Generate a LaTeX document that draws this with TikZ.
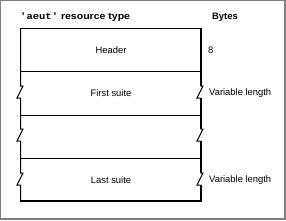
\documentclass[tikz,border=0pt]{standalone}
\usepackage{fontspec}
\setmainfont{Liberation Sans}
\newfontfamily\monob{Liberation Mono}
\begin{document}
\begin{tikzpicture}[x=1pt,y=-1pt,
  lbl/.style={inner sep=0pt,font=\fontsize{9.4}{11}\selectfont},
  hdr/.style={inner sep=0pt,font=\fontsize{9.4}{11}\selectfont\bfseries},
  frm/.style={draw={rgb,255:red,128;green,128;blue,128}},
  thin/.style={line width=1pt},
  thick/.style={line width=2pt}]
\useasboundingbox (0,0) rectangle (286,220);
\fill[white] (0,0) rectangle (286,220);
% outer frame
\draw[frm,line width=1pt] (285,0.5) -- (0.5,0.5) -- (0.5,219);
\draw[frm,line width=2pt] (285,0) -- (285,219) -- (0,219);
% title texts
\node[hdr,anchor=west] (title) at (20,17.5) {\scalebox{1.12}[1]{{\monob 'aeut'} resource type}};
\node[hdr,anchor=west] (bytes) at (212,17.5) {Bytes};
% coordinates
\coordinate (tl) at (20.5,28.5);
\coordinate (tr) at (200.5,28.5);
% horizontal lines
\draw[thin] (20,28.5) -- (201.5,28.5);
\draw[thin] (20.5,71.5) -- (200.5,71.5);
\draw[thin] (20.5,115.5) -- (200.5,115.5);
\draw[thin] (20.5,158.5) -- (200.5,158.5);
\draw[thick] (20,201) -- (201.5,201);
% left edge with breaks
\draw[thin] (20.5,28.5) -- (20.5,86) -- (23,86) -- (17,98) -- (20.5,98)
  -- (20.5,129) -- (23,129) -- (17,141) -- (20.5,141)
  -- (20.5,173) -- (23,173) -- (17,185) -- (20.5,185) -- (20.5,202);
% right edge with breaks
\draw[thick] (200.5,28.5) -- (200.5,86);
\draw[thin] (200.5,86) -- (203,86) -- (197,98) -- (200.5,98);
\draw[thick] (200.5,98) -- (200.5,129);
\draw[thin] (200.5,129) -- (203,129) -- (197,141) -- (200.5,141);
\draw[thick] (200.5,141) -- (200.5,173);
\draw[thin] (200.5,173) -- (203,173) -- (197,185) -- (200.5,185);
\draw[thick] (200.5,185) -- (200.5,202);
% row labels
\node[lbl] (header) at (111,50) {Header};
\node[lbl] (first) at (111,93) {First suite};
\node[lbl] (last) at (111,180) {Last suite};
\node[lbl,anchor=west] (b8) at (208,50) {8};
\node[lbl,anchor=west] (v1) at (209,93) {Variable length};
\node[lbl,anchor=west] (v2) at (209,180) {Variable length};
\end{tikzpicture}
\end{document}
